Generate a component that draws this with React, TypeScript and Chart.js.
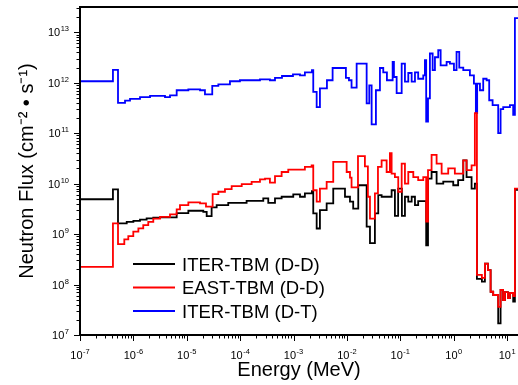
import React, { useEffect, useRef } from "react";
import { Chart, registerables } from "chart.js";

Chart.register(...registerables);

const FONT = '"Liberation Sans", Arial, Helvetica, sans-serif';

const seriesNames = ["ITER-TBM (D-D)", "EAST-TBM (D-D)", "ITER-TBM (D-T)"];
const seriesColors = ["#000000", "#ff0000", "#0000ff"];
const xTitle = "Energy (MeV)";
const yTitle = "Neutron Flux (cm\u207B\u00B2 \u2022 s\u207B\u00B9)";
const xDecades = [-7, -6, -5, -4, -3, -2, -1, 0, 1];
const yDecades = [7, 8, 9, 10, 11, 12, 13];
const xRange = [1e-7, 16];
const yRange = [1e7, 3.17e13];

// ITER-TBM (D-D): group lower edges (MeV) + final edge, flux per group
const iterDDEdges = [
  1e-7, 4.14e-7, 5.15e-7, 7.5e-7, 1.0e-6, 1.33e-6, 1.77e-6, 2.36e-6, 3.15e-6, 6.47e-6,
  1.07e-5, 2.04e-5, 2.36e-5, 2.92e-5, 3.63e-5, 5.98e-5, 1.32e-4, 2.71e-4, 3.36e-4, 4.49e-4,
  5.98e-4, 9.88e-4, 1.32e-3, 1.63e-3, 2.21e-3, 2.34e-3, 2.71e-3, 3.12e-3, 4.17e-3, 5.54e-3,
  9.19e-3, 1.14e-2, 1.31e-2, 1.63e-2, 2.34e-2, 2.7e-2, 3.34e-2, 3.86e-2, 4.46e-2, 6.87e-2,
  7.92e-2, 9.1e-2, 0.107, 0.122, 0.141, 0.163, 0.188, 0.216, 0.305, 0.33,
  0.385, 0.478, 0.637, 0.98, 1.21, 1.51, 1.74, 2.16, 2.49, 2.72,
  3.37, 3.84, 4.37, 4.91, 5.49, 6.81, 7.55, 8.4, 9.1, 10.35,
  11.3, 13.0, 14.0, 20,
];
const iterDDFlux = [
  4.9e9, 7.7e9, 1.63e9, 1.75e9, 1.83e9, 1.94e9, 2.05e9, 2.12e9, 2.15e9, 2.6e9,
  2.9e9, 2.76e9, 2.27e9, 3.4e9, 3.75e9, 4.17e9, 4.57e9, 5.1e9, 4.17e9, 5.1e9,
  5.5e9, 6.1e9, 5.5e9, 6.4e9, 7.1e9, 2.57e9, 1.29e9, 2.98e9, 4.05e9, 8.0e9,
  5.5e9, 4.4e9, 3.2e9, 9.3e9, 1.4e9, 6.6e8, 2.57e9, 5.9e9, 5.5e9, 7.4e9,
  2.3e9, 8.0e9, 2.3e9, 5.5e9, 4.4e9, 5.5e9, 3.75e9, 4.5e9, 6.0e8, 1.26e10,
  1.7e10, 1.0e10, 1.1e10, 9.3e9, 1.17e10, 2.9e10, 1.35e10, 8.0e9, 1.0e10, 1.3e8,
  1.14e8, 2.6e8, 1.94e8, 7.2e7, 6.2e7, 1.7e7, 7.8e7, 4.9e7, 7.1e7, 5.4e7,
  6.8e7, 4.6e7, 7.5e9,
];

// EAST-TBM (D-D)
const eastDDEdges = [
  1e-7, 4.14e-7, 5.15e-7, 6.76e-7, 8.03e-7, 9.96e-7, 1.24e-6, 1.53e-6, 1.9e-6, 2.36e-6,
  3.15e-6, 4.85e-6, 6.47e-6, 7.46e-6, 1.07e-5, 1.77e-5, 2.29e-5, 3.05e-5, 3.9e-5, 5.19e-5,
  6.93e-5, 1.07e-4, 1.64e-4, 2.35e-4, 2.92e-4, 3.61e-4, 4.49e-4, 5.98e-4, 7.96e-4, 1.63e-3,
  2.18e-3, 2.34e-3, 2.71e-3, 3.12e-3, 4.17e-3, 5.54e-3, 9.88e-3, 1.14e-2, 1.22e-2, 1.61e-2,
  2.17e-2, 2.47e-2, 2.7e-2, 3.34e-2, 3.81e-2, 4.46e-2, 5.54e-2, 6.38e-2, 6.87e-2, 7.92e-2,
  9.14e-2, 0.106, 0.122, 0.141, 0.175, 0.216, 0.269, 0.305, 0.33, 0.385,
  0.478, 0.594, 0.789, 1.05, 1.51, 1.74, 2.16, 2.49, 2.72, 3.37,
  3.84, 4.37, 4.91, 5.49, 6.81, 7.55, 8.4, 9.1, 10.35, 11.3,
  13.0, 14.0, 20,
];
const eastDDFlux = [
  2.24e8, 1.63e9, 6.3e8, 7.85e8, 9.1e8, 1.12e9, 1.3e9, 1.5e9, 1.75e9, 2.03e9,
  2.2e9, 2.46e9, 3.1e9, 3.75e9, 4.25e9, 4.05e9, 3.5e9, 6.2e9, 6.9e9, 7.8e9,
  8.9e9, 9.8e9, 1.08e10, 1.21e10, 1.26e10, 1.05e10, 1.41e10, 1.7e10, 1.9e10, 2.15e10,
  2.3e10, 7.4e9, 4.4e9, 8.0e9, 1.08e10, 2.7e10, 1.7e10, 1.32e10, 8.4e9, 3.5e10,
  2.2e10, 5.5e9, 2.03e9, 6.4e9, 2.15e10, 2.9e10, 1.7e10, 4.0e10, 1.58e10, 1.35e10,
  6.9e9, 2.5e10, 1.0e10, 1.7e10, 1.35e10, 1.17e10, 1.35e10, 1.76e9, 1.85e10, 3.7e10,
  2.5e10, 1.58e10, 2.0e10, 1.58e10, 2.9e10, 1.85e10, 2.3e10, 2.5e11, 1.55e8, 1.35e8,
  2.6e8, 1.94e8, 7.2e7, 6.2e7, 3.6e7, 7.8e7, 4.9e7, 7.1e7, 5.4e7, 6.8e7,
  5.9e7, 8.0e9,
];

// ITER-TBM (D-T)
const iterDTEdges = [
  1e-7, 4.14e-7, 5.15e-7, 6.97e-7, 8.64e-7, 1.33e-6, 2.05e-6, 3.91e-6, 4.85e-6, 6.47e-6,
  1.07e-5, 1.77e-5, 2.19e-5, 3.0e-5, 3.9e-5, 6.44e-5, 9.9e-5, 2.35e-4, 3.61e-4, 4.49e-4,
  6.07e-4, 9.75e-4, 1.32e-3, 1.63e-3, 2.21e-3, 2.34e-3, 2.71e-3, 3.12e-3, 4.22e-3, 5.39e-3,
  9.57e-3, 1.09e-2, 1.22e-2, 1.52e-2, 2.34e-2, 2.62e-2, 2.9e-2, 3.49e-2, 4.15e-2, 4.79e-2,
  5.61e-2, 7.18e-2, 7.59e-2, 8.53e-2, 0.106, 0.122, 0.141, 0.163, 0.188, 0.216,
  0.269, 0.289, 0.305, 0.33, 0.358, 0.403, 0.445, 0.513, 0.569, 0.736,
  0.849, 1.01, 1.13, 1.27, 1.51, 2.01, 2.39, 2.6, 2.75, 3.1,
  3.57, 4.13, 4.62, 5.35, 6.81, 7.55, 8.45, 11.3, 13.0, 14.0, 20,
];
const iterDTFlux = [
  1.07e12, 1.8e12, 4.0e11, 4.4e11, 4.8e11, 5.2e11, 5.5e11, 5.2e11, 5.6e11, 7.1e11,
  7.4e11, 7.1e11, 5.9e11, 8.7e11, 9.3e11, 1.07e12, 1.12e12, 1.17e12, 1.12e12, 1.25e12,
  1.36e12, 1.47e12, 1.4e12, 1.6e12, 1.77e12, 6.6e11, 3.3e11, 7.7e11, 1.12e12, 1.96e12,
  1.25e12, 1.12e12, 8.0e11, 2.4e12, 3.9e11, 8.9e11, 1.5e11, 7.1e11, 1.96e12, 1.6e12,
  1.12e12, 2.6e12, 1.3e12, 6.2e11, 2.4e12, 1.05e12, 1.56e12, 1.05e12, 1.6e12, 1.2e12,
  1.4e12, 2.8e12, 1.7e11, 4.9e11, 3.8e12, 1.77e12, 3.2e12, 4.4e12, 2.2e12, 2.6e12,
  2.4e12, 1.77e12, 4.1e12, 2.0e12, 1.77e12, 1.4e12, 9.6e11, 2.5e11, 9.6e11, 7.1e11,
  1.2e12, 1.12e12, 4.5e11, 3.6e11, 1.0e11, 3.0e11, 3.3e11, 3.6e11, 2.3e11, 1.9e13,
];

function stepPoints(edges: number[], flux: number[]) {
  return edges.map((e, i) => ({ x: e, y: flux[Math.min(i, flux.length - 1)] }));
}

function drawPower(ctx: CanvasRenderingContext2D, exp: number, ax: number, baseY: number, align: "center" | "right") {
  const base = "10";
  const sup = String(exp);
  ctx.font = `11px ${FONT}`;
  const wb = ctx.measureText(base).width;
  ctx.font = `7.5px ${FONT}`;
  const ws = ctx.measureText(sup).width;
  const total = wb + ws + 0.5;
  const x0 = align === "center" ? ax - total / 2 : ax - total;
  ctx.textAlign = "left";
  ctx.textBaseline = "alphabetic";
  ctx.font = `11px ${FONT}`;
  ctx.fillText(base, x0, baseY);
  ctx.font = `7.5px ${FONT}`;
  ctx.fillText(sup, x0 + wb + 0.5, baseY - 5);
}

const originAxes = {
  id: "originAxes",
  afterDraw(chart: any) {
    const { ctx, chartArea, scales } = chart;
    const { left, right, top, bottom } = chartArea;
    const xs = scales.x;
    const ys = scales.y;
    ctx.save();
    ctx.strokeStyle = "#000";
    ctx.fillStyle = "#000";

    // minor/major ticks
    ctx.lineWidth = 1;
    ctx.beginPath();
    for (const d of xDecades) {
      for (let m = 1; m <= 9; m++) {
        const v = m * Math.pow(10, d);
        if (v < xs.min * 0.999 || v > xs.max) continue;
        const p = Math.round(xs.getPixelForValue(v)) + 0.5;
        ctx.moveTo(p, bottom);
        ctx.lineTo(p, bottom + (m === 1 ? 6 : 3.5));
      }
    }
    for (const d of yDecades) {
      for (let m = 1; m <= 9; m++) {
        const v = m * Math.pow(10, d);
        if (v < ys.min * 0.999 || v > ys.max) continue;
        const p = Math.round(ys.getPixelForValue(v)) + 0.5;
        ctx.moveTo(left, p);
        ctx.lineTo(left - (m === 1 ? 6 : 3.5), p);
      }
    }
    ctx.stroke();

    // frame lines
    ctx.lineWidth = 2;
    ctx.beginPath();
    ctx.moveTo(left, bottom + 1);
    ctx.lineTo(left, top);
    ctx.lineTo(right, top);
    ctx.moveTo(left - 1, bottom);
    ctx.lineTo(right, bottom);
    ctx.stroke();

    // tick labels
    for (const d of xDecades) {
      const p = xs.getPixelForValue(Math.pow(10, d));
      drawPower(ctx, d, p, bottom + 23.5, "center");
    }
    for (const d of yDecades) {
      const p = ys.getPixelForValue(Math.pow(10, d));
      drawPower(ctx, d, left - 11, p + 4, "right");
    }

    // legend inside the plot
    const rows = [264, 287.5, 311];
    ctx.font = `18.5px ${FONT}`;
    ctx.textAlign = "left";
    ctx.textBaseline = "alphabetic";
    seriesNames.forEach((name, i) => {
      const y = rows[i];
      ctx.strokeStyle = seriesColors[i];
      ctx.lineWidth = 1.8;
      ctx.beginPath();
      ctx.moveTo(133, y);
      ctx.lineTo(175, y);
      ctx.stroke();
      ctx.fillStyle = "#000";
      ctx.fillText(name, 182, y + 6.7);
    });
    ctx.restore();
  },
};

export default function App() {
  const ref = useRef<HTMLCanvasElement | null>(null);
  useEffect(() => {
    document.body.style.margin = "0";
    const canvas = ref.current;
    if (!canvas) return;
    const datasets = [
      { label: seriesNames[0], data: stepPoints(iterDDEdges, iterDDFlux), borderColor: seriesColors[0], order: 1 },
      { label: seriesNames[1], data: stepPoints(eastDDEdges, eastDDFlux), borderColor: seriesColors[1], order: 0 },
      { label: seriesNames[2], data: stepPoints(iterDTEdges, iterDTFlux), borderColor: seriesColors[2], order: 2 },
    ].map((d) => ({
      ...d,
      stepped: "before" as const,
      borderWidth: 1.8,
      pointRadius: 0,
      fill: false,
      backgroundColor: d.borderColor,
    }));
    const chart = new Chart(canvas, {
      type: "line",
      data: { datasets },
      options: {
        responsive: false,
        animation: false,
        devicePixelRatio: 1,
        layout: { padding: { top: 7, right: 0, left: 0, bottom: 0 } },
        plugins: { legend: { display: false }, tooltip: { enabled: false } },
        scales: {
          x: {
            type: "logarithmic",
            min: xRange[0],
            max: xRange[1],
            grid: { display: false },
            border: { display: false },
            ticks: { display: false },
            title: {
              display: true,
              text: xTitle,
              color: "#000",
              font: { family: FONT, size: 20 },
              padding: { top: 0, bottom: 3 },
            },
            afterFit: (s: any) => {
              s.height = 50;
            },
          },
          y: {
            type: "logarithmic",
            min: yRange[0],
            max: yRange[1],
            grid: { display: false },
            border: { display: false },
            ticks: { display: false },
            title: {
              display: true,
              text: yTitle,
              color: "#000",
              font: { family: FONT, size: 20 },
              padding: { top: 15, bottom: 0 },
            },
            afterFit: (s: any) => {
              s.width = 80;
            },
          },
        },
      },
      plugins: [originAxes],
    } as any);
    return () => chart.destroy();
  }, []);
  return (
    <div style={{ width: 518, height: 385, background: "#fff" }}>
      <canvas ref={ref} width={518} height={385} style={{ display: "block" }} />
    </div>
  );
}
